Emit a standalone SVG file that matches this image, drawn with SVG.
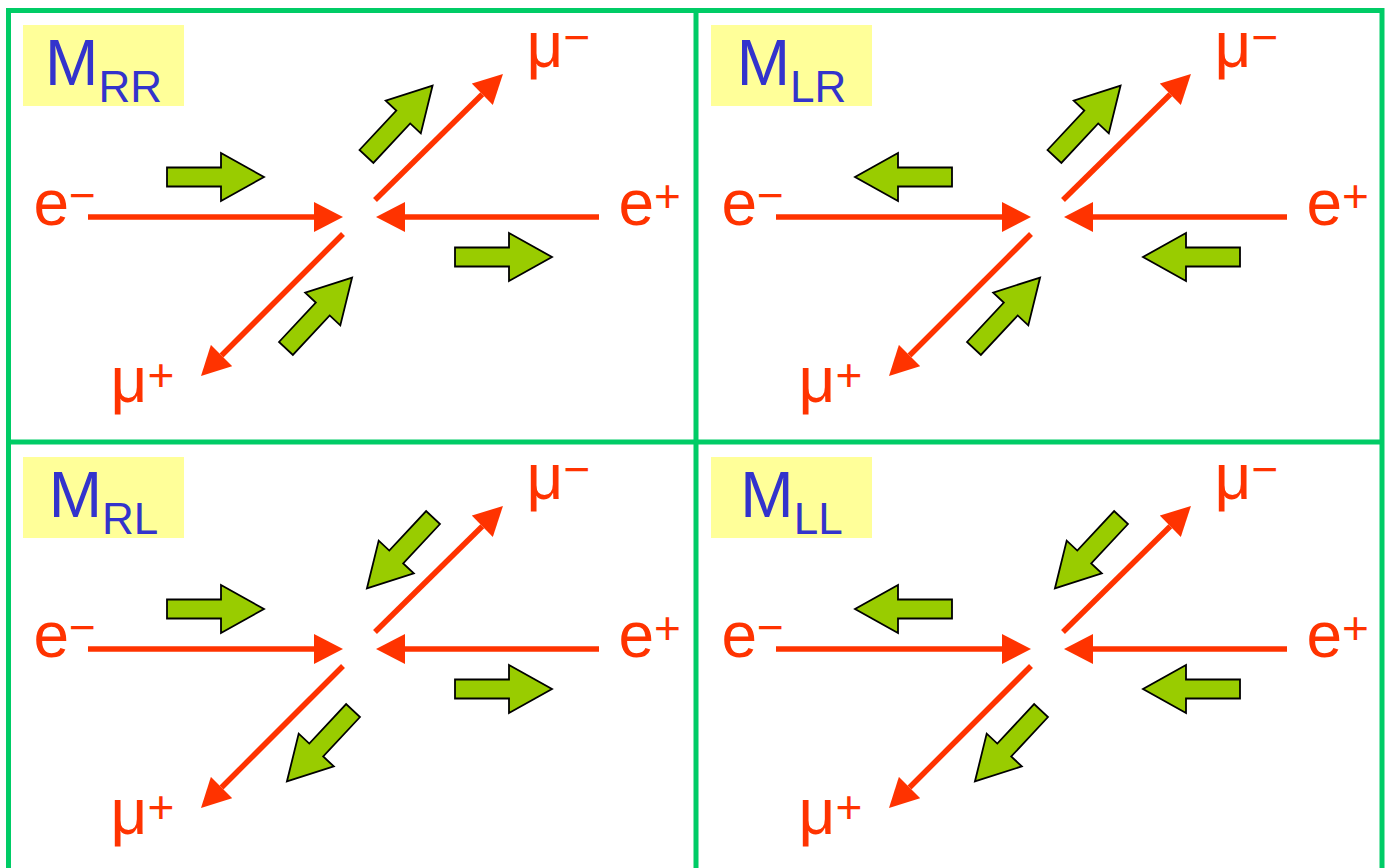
<svg xmlns="http://www.w3.org/2000/svg" xmlns:xlink="http://www.w3.org/1999/xlink" width="1393" height="868" viewBox="0 0 1393 868">
<style>
.frame{fill:none;stroke:#00cc66;stroke-width:5}
.box{fill:#ffff99}
.mlab{font-family:"Liberation Sans",Arial,sans-serif;font-size:64px;fill:#3333cc}
.sub{font-size:44px}
.p{font-family:"Liberation Sans",Arial,sans-serif;font-size:64px;fill:#ff3300}
.sup{font-size:46px}
.red{fill:none;stroke:#ff3300;stroke-width:5.5;marker-end:url(#ah)}
.spin{fill:#99cc00;stroke:#000;stroke-width:1.8;stroke-linejoin:miter}
</style>
<defs>
<marker id="ah" markerUnits="userSpaceOnUse" markerWidth="30" markerHeight="30" viewBox="0 0 29 30" refX="0" refY="15" orient="auto">
<path d="M0,0 L29,15 L0,30 z" fill="#ff3300"/>
</marker>
<polygon id="sp" class="spin" points="-48.5,-9.5 5.5,-9.5 5.5,-24 48.5,0 5.5,24 5.5,9.5 -48.5,9.5"/>
</defs>
<rect width="1393" height="868" fill="#fff"/>
<g id="frame">
<rect class="frame" x="8.5" y="10.5" width="1373.5" height="900"/>
<line class="frame" x1="696" y1="10.5" x2="696" y2="868"/>
<line class="frame" x1="8.5" y1="442" x2="1382" y2="442"/>
</g>
<g id="panel-RR">
<rect class="box" x="23" y="25" width="161" height="81"/>
<text class="mlab" x="103.5" y="85" text-anchor="middle">M<tspan class="sub" dy="17">RR</tspan></text>
<text class="p" x="33.5" y="225">e<tspan class="sup" dy="-14">−</tspan></text>
<text class="p" x="618.5" y="225">e<tspan class="sup" dy="-13">+</tspan></text>
<text class="p" x="526.5" y="67">μ<tspan class="sup" dy="-14">−</tspan></text>
<text class="p" x="110.5" y="402">μ<tspan class="sup" dy="-11">+</tspan></text>
<use xlink:href="#sp" transform="translate(215.5,177)"/>
<use xlink:href="#sp" transform="translate(503.5,257)"/>
<use xlink:href="#sp" transform="translate(399.5,121) rotate(-47)"/>
<use xlink:href="#sp" transform="translate(319,313) rotate(-47)"/>
</g>
<g id="panel-LR" transform="translate(688,0)">
<rect class="box" x="23" y="25" width="161" height="81"/>
<text class="mlab" x="103.5" y="85" text-anchor="middle">M<tspan class="sub" dy="17">LR</tspan></text>
<text class="p" x="33.5" y="225">e<tspan class="sup" dy="-14">−</tspan></text>
<text class="p" x="618.5" y="225">e<tspan class="sup" dy="-13">+</tspan></text>
<text class="p" x="526.5" y="67">μ<tspan class="sup" dy="-14">−</tspan></text>
<text class="p" x="110.5" y="402">μ<tspan class="sup" dy="-11">+</tspan></text>
<use xlink:href="#sp" transform="translate(215.5,177) rotate(180)"/>
<use xlink:href="#sp" transform="translate(503.5,257) rotate(180)"/>
<use xlink:href="#sp" transform="translate(399.5,121) rotate(-47)"/>
<use xlink:href="#sp" transform="translate(319,313) rotate(-47)"/>
</g>
<g id="panel-RL" transform="translate(0,432)">
<rect class="box" x="23" y="25" width="161" height="81"/>
<text class="mlab" x="103.5" y="85" text-anchor="middle">M<tspan class="sub" dy="17">RL</tspan></text>
<text class="p" x="33.5" y="225">e<tspan class="sup" dy="-14">−</tspan></text>
<text class="p" x="618.5" y="225">e<tspan class="sup" dy="-13">+</tspan></text>
<text class="p" x="526.5" y="67">μ<tspan class="sup" dy="-14">−</tspan></text>
<text class="p" x="110.5" y="402">μ<tspan class="sup" dy="-11">+</tspan></text>
<use xlink:href="#sp" transform="translate(215.5,177)"/>
<use xlink:href="#sp" transform="translate(503.5,257)"/>
<use xlink:href="#sp" transform="translate(400,121) rotate(133)"/>
<use xlink:href="#sp" transform="translate(320,314) rotate(133)"/>
</g>
<g id="panel-LL" transform="translate(688,432)">
<rect class="box" x="23" y="25" width="161" height="81"/>
<text class="mlab" x="103.5" y="85" text-anchor="middle">M<tspan class="sub" dy="17">LL</tspan></text>
<text class="p" x="33.5" y="225">e<tspan class="sup" dy="-14">−</tspan></text>
<text class="p" x="618.5" y="225">e<tspan class="sup" dy="-13">+</tspan></text>
<text class="p" x="526.5" y="67">μ<tspan class="sup" dy="-14">−</tspan></text>
<text class="p" x="110.5" y="402">μ<tspan class="sup" dy="-11">+</tspan></text>
<use xlink:href="#sp" transform="translate(215.5,177) rotate(180)"/>
<use xlink:href="#sp" transform="translate(503.5,257) rotate(180)"/>
<use xlink:href="#sp" transform="translate(400,121) rotate(133)"/>
<use xlink:href="#sp" transform="translate(320,314) rotate(133)"/>
</g>
<g id="connectors">
<g>
<path class="red" d="M88,217 L314,217"/>
<path class="red" d="M599,217 L405,217"/>
<path class="red" d="M375,200 L482.3,94.3"/>
<path class="red" d="M343,234 L221.5,355.5"/>
</g>
<g transform="translate(688,0)">
<path class="red" d="M88,217 L314,217"/>
<path class="red" d="M599,217 L405,217"/>
<path class="red" d="M375,200 L482.3,94.3"/>
<path class="red" d="M343,234 L221.5,355.5"/>
</g>
<g transform="translate(0,432)">
<path class="red" d="M88,217 L314,217"/>
<path class="red" d="M599,217 L405,217"/>
<path class="red" d="M375,200 L482.3,94.3"/>
<path class="red" d="M343,234 L221.5,355.5"/>
</g>
<g transform="translate(688,432)">
<path class="red" d="M88,217 L314,217"/>
<path class="red" d="M599,217 L405,217"/>
<path class="red" d="M375,200 L482.3,94.3"/>
<path class="red" d="M343,234 L221.5,355.5"/>
</g>
</g>
</svg>
